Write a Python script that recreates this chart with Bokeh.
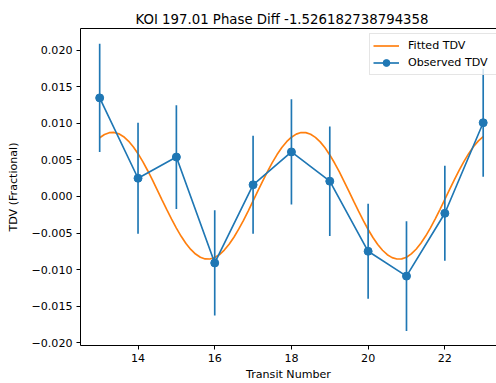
from bokeh.plotting import figure
from bokeh.models import (Range1d, FixedTicker, LinearAxis, Legend, LegendItem,
                          CustomJSTickFormatter)
from bokeh.embed import file_html
from bokeh.resources import INLINE

# ---- data ----
transit = [13, 14, 15, 16, 17, 18, 19, 20, 21, 22, 23]
tdv_obs = [0.0135, 0.0025, 0.0054, -0.0091, 0.0016, 0.0061, 0.0021,
           -0.0075, -0.0109, -0.0023, 0.0101]
tdv_err = [0.0074, 0.0076, 0.0071, 0.0072, 0.0067, 0.0072, 0.0075,
           0.0065, 0.0075, 0.0065, 0.0074]

fit_x = [13.0, 13.125, 13.25, 13.375, 13.5, 13.625, 13.75, 13.875,
         14.0, 14.125, 14.25, 14.375, 14.5, 14.625, 14.75, 14.875,
         15.0, 15.125, 15.25, 15.375, 15.5, 15.625, 15.75, 15.875,
         16.0, 16.125, 16.25, 16.375, 16.5, 16.625, 16.75, 16.875,
         17.0, 17.125, 17.25, 17.375, 17.5, 17.625, 17.75, 17.875,
         18.0, 18.125, 18.25, 18.375, 18.5, 18.625, 18.75, 18.875,
         19.0, 19.125, 19.25, 19.375, 19.5, 19.625, 19.75, 19.875,
         20.0, 20.125, 20.25, 20.375, 20.5, 20.625, 20.75, 20.875,
         21.0, 21.125, 21.25, 21.375, 21.5, 21.625, 21.75, 21.875,
         22.0, 22.125, 22.25, 22.375, 22.5, 22.625, 22.75, 22.875, 23.0]
fit_tdv = [0.00804, 0.00849, 0.00874, 0.00877, 0.00858, 0.00819, 0.00759, 0.00681,
           0.00586, 0.00477, 0.00356, 0.00227, 0.00092, -0.00045, -0.00180, -0.00311,
           -0.00433, -0.00545, -0.00643, -0.00725, -0.00788, -0.00832, -0.00855, -0.00856,
           -0.00836, -0.00795, -0.00733, -0.00654, -0.00558, -0.00447, -0.00326, -0.00196,
           -0.00061, 0.00076, 0.00211, 0.00341, 0.00463, 0.00574, 0.00670, 0.00750,
           0.00812, 0.00854, 0.00876, 0.00875, 0.00853, 0.00810, 0.00748, 0.00667,
           0.00569, 0.00458, 0.00336, 0.00205, 0.00070, -0.00067, -0.00201, -0.00331,
           -0.00452, -0.00562, -0.00657, -0.00736, -0.00797, -0.00837, -0.00856, -0.00854,
           -0.00831, -0.00786, -0.00722, -0.00639, -0.00542, -0.00429, -0.00306, -0.00175,
           -0.00039, 0.00097, 0.00232, 0.00361, 0.00481, 0.00590, 0.00684, 0.00762, 0.00821]

x_ticks = [14, 16, 18, 20, 22]
y_ticks = [-0.020, -0.015, -0.010, -0.005, 0.0, 0.005, 0.010, 0.015, 0.020]

title_text = "KOI 197.01 Phase Diff -1.526182738794358"

BLUE = "#1f77b4"
ORANGE = "#ff7f0e"
FONT = "DejaVu Sans"
TICK_FS = "11.1px"

p = figure(width=496, height=383, output_backend="svg", toolbar_location=None,
           x_range=Range1d(12.5, 23.347), y_range=Range1d(-0.0204, 0.0230),
           min_border_left=80, min_border_right=0, min_border_top=28,
           min_border_bottom=38)
p.grid.visible = False
p.outline_line_color = None
p.background_fill_color = "white"
p.border_fill_color = "white"

p.title.text = title_text
p.title.text_font = FONT
p.title.text_font_size = "13.3px"
p.title.text_font_style = "normal"
p.title.text_color = "black"
p.title.align = "left"
p.title.offset = 55
p.title.standoff = 4

lower = [v - e for v, e in zip(tdv_obs, tdv_err)]
upper = [v + e for v, e in zip(tdv_obs, tdv_err)]

fit_r = p.line(fit_x, fit_tdv, line_color=ORANGE, line_width=1.67)
p.segment(x0=transit, y0=lower, x1=transit, y1=upper, line_color=BLUE,
          line_width=1.67)
obs_line = p.line(transit, tdv_obs, line_color=BLUE, line_width=1.67)
obs_pts = p.scatter(transit, tdv_obs, size=8, fill_color=BLUE, line_color=BLUE)

for ax in (p.xaxis[0], p.yaxis[0]):
    ax.axis_line_color = "black"
    ax.axis_line_width = 1
    ax.major_tick_line_color = "black"
    ax.major_tick_line_width = 1
    ax.major_tick_out = 4
    ax.major_tick_in = 0
    ax.minor_tick_line_color = None
    ax.major_label_text_font = FONT
    ax.major_label_text_font_size = TICK_FS
    ax.major_label_text_color = "black"
    ax.major_label_standoff = 4
    ax.axis_label_text_font = FONT
    ax.axis_label_text_font_size = TICK_FS
    ax.axis_label_text_font_style = "normal"
    ax.axis_label_text_color = "black"

p.xaxis[0].ticker = FixedTicker(ticks=x_ticks)
p.yaxis[0].ticker = FixedTicker(ticks=y_ticks)
p.yaxis[0].formatter = CustomJSTickFormatter(code="""
if (Math.abs(tick) < 1e-12) { return '0.000'; }
return tick.toFixed(3).replace('-', '\u2212');
""")
p.xaxis[0].axis_label = "Transit Number"
p.xaxis[0].axis_label_standoff = 3
p.yaxis[0].axis_label = "TDV (Fractional)"
p.yaxis[0].axis_label_standoff = 8

# top spine
top = LinearAxis(ticker=FixedTicker(ticks=[]), major_label_text_font_size="0px",
                 axis_line_color="black", axis_line_width=1,
                 major_tick_line_color=None, minor_tick_line_color=None)
p.add_layout(top, "above")

legend = Legend(items=[LegendItem(label="Fitted TDV", renderers=[fit_r]),
                       LegendItem(label="Observed TDV",
                                  renderers=[obs_line, obs_pts])],
                location=(289, 270))
legend.label_text_font = FONT
legend.label_text_font_size = TICK_FS
legend.label_text_color = "black"
legend.glyph_width = 26
legend.glyph_height = 17
legend.label_height = 17
legend.label_width = 88
legend.label_standoff = 9
legend.spacing = 0
legend.padding = 3
legend.margin = 0
legend.border_line_color = "#cccccc"
legend.border_line_width = 1
legend.background_fill_color = "white"
legend.background_fill_alpha = 0.8
p.add_layout(legend)

open("out.html", "w").write(file_html(p, INLINE))
